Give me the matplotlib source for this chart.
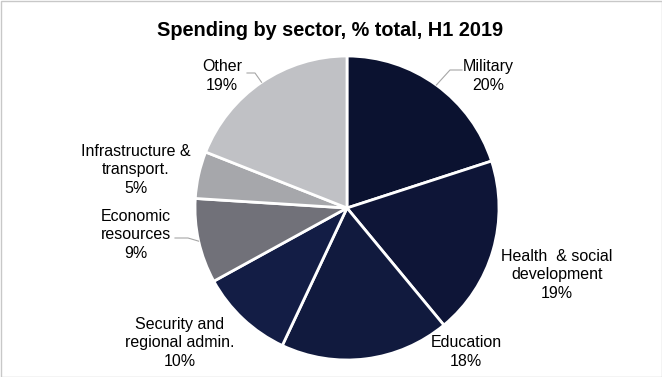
import matplotlib
matplotlib.use("Agg")
import matplotlib.pyplot as plt
import numpy as np

plt.rcParams['font.family'] = ['Liberation Sans', 'DejaVu Sans']

categories = ["Military", "Health  & social\ndevelopment", "Education",
              "Security and\nregional admin.", "Economic\nresources",
              "Infrastructure &\ntransport.", "Other"]
values = [20, 19, 18, 10, 9, 5, 19]
colors = ['#0b1230', '#0e1537', '#111a3e', '#131d45', '#717179', '#a6a7ab', '#c0c1c5']

W, H = 662, 377
fig = plt.figure(figsize=(W / 100, H / 100), dpi=100)

def px(x, y):
    return (x / W, 1 - y / H)

# border
fig.patches.append(plt.Rectangle((0.5 / W, 0.5 / H), 1 - 1.0 / W, 1 - 1.0 / H,
                                 transform=fig.transFigure, fill=False,
                                 edgecolor='#c8c8c8', linewidth=1))

cx, cy, r = 347, 208, 152
ax = fig.add_axes([(cx - r) / W, (H - cy - r) / H, 2 * r / W, 2 * r / H])
wedges, _ = ax.pie(values, colors=colors, startangle=90, counterclock=False,
                   wedgeprops=dict(edgecolor='white', linewidth=2.0))
ax.set_xlim(-1, 1)
ax.set_ylim(-1, 1)
ax.set_aspect('equal')
ax.axis('off')

fig.text(*px(330, 31), "Spending by sector, % total, H1 2019", ha='center', va='center',
         fontsize=14.3, fontweight='bold', color='black')

label_pos = [(488, 76), (557, 275), (466, 352), (180, 343), (136, 235), (136, 170), (222, 76)]
fs = 11.5
for cat, v, (x, y) in zip(categories, values, label_pos):
    fig.text(*px(x, y), f"{cat}\n{v}%", ha='center', va='center', fontsize=fs,
             color='black', linespacing=1.32)

# leader lines
total = sum(values)
cum = np.cumsum([0] + values)
leaders = {0: [(450, 70), (462, 70)], 6: [(255, 73), (247, 73)], 4: [(188, 238), (175, 238)]}
for i, pts in leaders.items():
    mid = (cum[i] + values[i] / 2) / total * 2 * np.pi
    sx = cx + r * np.sin(mid)
    sy = cy - r * np.cos(mid)
    allp = [(sx, sy)] + pts
    xs = [p[0] / W for p in allp]
    ys = [1 - p[1] / H for p in allp]
    fig.add_artist(plt.Line2D(xs, ys, transform=fig.transFigure, color='#a6a6a6', linewidth=0.8))

fig.savefig("out.png", dpi=100)
